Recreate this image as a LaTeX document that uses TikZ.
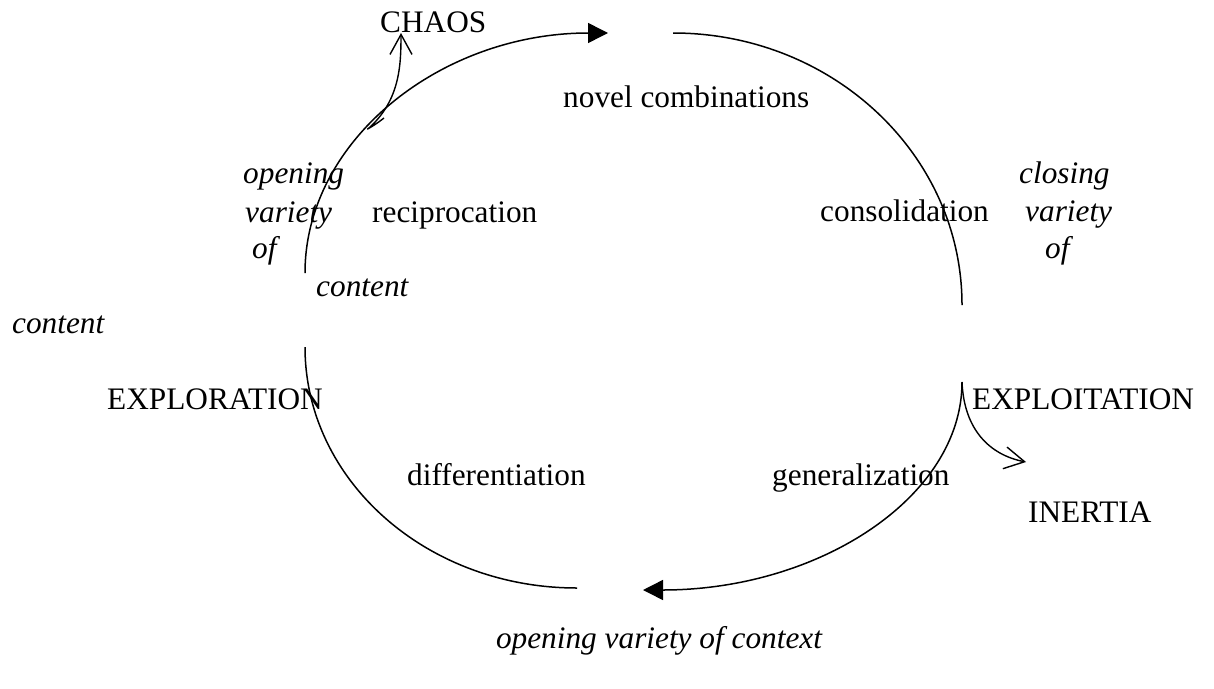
\documentclass[tikz,border=0pt]{standalone}
\usepackage{fontspec}
\setmainfont{Liberation Serif}
\newfontfamily\timesfont{Liberation Serif}
\usetikzlibrary{arrows.meta}
\begin{document}
\begin{tikzpicture}[x=1pt,y=-1pt,
  lbl/.style={anchor=base west, inner sep=0pt, font=\timesfont\fontsize{31.3}{37}\selectfont},
  ilbl/.style={anchor=base west, inner sep=0pt, font=\timesfont\fontsize{31.3}{37}\selectfont\itshape},
  cycleline/.style={line width=1.5pt},
  cyclearrow/.style={line width=1.5pt, -{Triangle[length=20pt,width=20pt]}},
  escape/.style={line width=1.4pt, -{Straight Barb[length=20pt,width=22pt]}}]
\useasboundingbox (0,0) rectangle (1214,688);

% labels
\node[lbl] (chaos) at (380,32) {CHAOS};
\node[lbl] (novel) at (563,107) {novel combinations};
\node[ilbl] (opl1) at (243,183) {opening};
\node[ilbl] (opl2) at (245,222) {variety};
\node[ilbl] (opl3) at (252,258) {of};
\node[lbl] (recip) at (372,222) {reciprocation};
\node[ilbl] (content1) at (316,296) {content};
\node[ilbl] (content2) at (12,333) {content};
\node[lbl] (explor) at (107,409) {EXPLORATION};
\node[lbl] (exploit) at (972,409) {EXPLOITATION};
\node[lbl] (consol) at (820,221) {consolidation};
\node[ilbl] (cl1) at (1019,183) {closing};
\node[ilbl] (cl2) at (1025,221) {variety};
\node[ilbl] (cl3) at (1045,258) {of};
\node[lbl] (diff) at (407,485) {differentiation};
\node[lbl] (gen) at (772,485) {generalization};
\node[lbl] (inertia) at (1028,522) {INERTIA};
\node[ilbl, anchor=base] (ctx) at (659,648) {opening variety of context};

% cycle end points
\coordinate (a1) at (305,273);
\coordinate (b1) at (608,33);
\coordinate (a2) at (673,33);
\coordinate (b2) at (962,305);
\coordinate (a3) at (962,382);
\coordinate (b3) at (643,590);
\coordinate (a4) at (577,588);
\coordinate (b4) at (305,347);
\coordinate (c0) at (384,118);
\coordinate (c1) at (369,128);
\coordinate (chaostip) at (401,33);
\coordinate (inertiatip) at (1026,462);

% cycle
\draw[cyclearrow] (a1) .. controls +(0,-132.6) and +(-167.3,0) .. (b1);
\draw[cycleline] (a2) .. controls +(159.6,0) and +(0,-150.2) .. (b2);
\draw[cyclearrow] (a3) .. controls +(0,114.9) and +(176.2,0) .. (b3);
\draw[cycleline] (a4) .. controls +(-150.8,0) and +(0,133.1) .. (b4);

% escapes
\draw[escape] (c0) .. controls +(-10,8) and +(-5,3) .. (c1) .. controls (400,100) and (401,65) .. (chaostip);
\draw[escape] (a3) .. controls +(2,48) and +(-36,-7) .. (inertiatip);
\end{tikzpicture}
\end{document}
